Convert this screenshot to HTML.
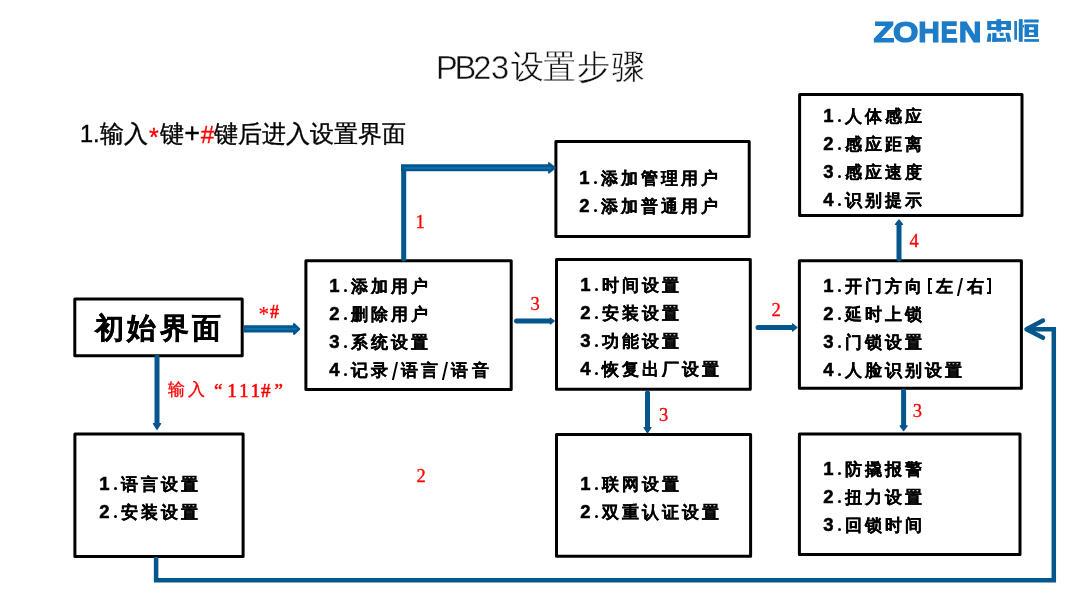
<!DOCTYPE html>
<html><head><meta charset="utf-8">
<style>
html,body{margin:0;padding:0;background:#fff;}
body{width:1080px;height:599px;position:relative;overflow:hidden;font-family:"Liberation Sans",sans-serif;color:#000;}
.a{position:absolute;white-space:nowrap;will-change:transform;}
.t{position:absolute;white-space:nowrap;will-change:transform;-webkit-text-stroke:0.2px #000;font-weight:700;font-size:17px;letter-spacing:3.1px;line-height:28px;}
.t div{height:28px;}
.t i{font-style:normal;display:inline-block;width:11px;text-align:center;letter-spacing:0;font-size:18.5px;-webkit-text-stroke:0.5px #000;}
.t i.s,.t i.lb,.t i.rb,.t i.dt{position:relative;vertical-align:top;height:28px;}
.t i.s{width:10px;}
.t i.dt:after{content:"";position:absolute;left:3.55px;top:16.5px;width:3.9px;height:3.9px;border-radius:50%;background:#000;}
.t i.s:after{content:"";position:absolute;left:2.6px;top:5.5px;width:2.4px;height:17.5px;background:#000;transform:skewX(-13deg);}
.t i.lb:after{content:"";position:absolute;left:2.8px;top:5.8px;width:2.2px;height:12.5px;border:2.5px solid #000;border-right:0;}
.t i.rb:after{content:"";position:absolute;left:0.6px;top:5.8px;width:2.2px;height:12.5px;border:2.5px solid #000;border-left:0;}
.hs{display:inline-block;position:relative;text-align:center;}
svg{position:absolute;left:0;top:0;will-change:transform;}
.rt{font-family:"Liberation Serif",serif;fill:#f00;font-size:18.5px;}
</style></head><body>

<svg width="1080" height="599" viewBox="0 0 1080 599">
  <!-- logo -->
  <g fill="#1c7cc7">
    <g font-family="Liberation Sans" font-weight="700" font-size="31.5" stroke="#1c7cc7" stroke-width="1.3">
    <text transform="translate(873.6,41.6) scale(1.08,0.95)">Z</text>
    <text transform="translate(893,41.6) scale(1.04,0.95)">O</text>
    <text transform="translate(918.3,41.6) scale(0.95,0.95)">H</text>
    <text transform="translate(940.8,41.6) scale(0.8,0.95)" stroke-width="1.6">E</text>
    <text transform="translate(958.8,41.6) scale(1,0.95)">N</text>
    </g>
  </g>
  <!-- boxes -->
  <g fill="none" stroke="#000" stroke-width="3" stroke-linejoin="round">
    <rect x="74.8" y="298.9" width="167.4" height="56.8"/>
    <rect x="305.9" y="260.8" width="205.3" height="128.8"/>
    <rect x="555.9" y="141.5" width="193.3" height="95"/>
    <rect x="556.5" y="259.5" width="193.8" height="129.8"/>
    <rect x="556.5" y="434.5" width="194.1" height="121.7"/>
    <rect x="799.6" y="94.5" width="222.4" height="121"/>
    <rect x="799.4" y="260.8" width="222" height="127.5"/>
    <rect x="799.4" y="434.1" width="220.6" height="120.5"/>
    <rect x="74.9" y="434" width="168.2" height="122.4"/>
  </g>
  <!-- thin blue connectors -->
  <g stroke="#05568c" stroke-width="5" fill="none" stroke-linecap="round">
    <line x1="403.7" y1="259" x2="403.7" y2="168"/>
    <line x1="157" y1="357" x2="157" y2="424"/>
    <line x1="516.5" y1="321.1" x2="550" y2="321.1"/>
    <line x1="758" y1="327.5" x2="793" y2="327.5"/>
    <line x1="899" y1="259" x2="899" y2="224"/>
    <line x1="647.5" y1="393" x2="647.5" y2="428"/>
    <line x1="903.6" y1="391" x2="903.6" y2="426"/>
  </g>
  <polyline points="156.1,557 156.1,580.3 1053.8,580.3 1053.8,329.3 1030,329.3" stroke="#05568c" stroke-width="4.5" fill="none" stroke-linejoin="miter"/>
  <polyline points="1043,320.5 1026.5,329.2 1043,337.8" stroke="#05568c" stroke-width="4.5" fill="none" stroke-linecap="round" stroke-linejoin="round"/>
  <!-- arrowheads -->
  <g fill="#05568c" stroke="#05568c" stroke-width="1.2" stroke-linejoin="round">
    <polygon points="550.3,318.2 554.3,321.1 550.3,324"/>
    <polygon points="792.5,323.9 797,327.5 792.5,331.1"/>
    <polygon points="895.4,224.3 899,219.9 902.6,224.3"/>
    <polygon points="644,427.5 647.5,432.8 651,427.5"/>
    <polygon points="900.1,425.8 903.6,430.6 907.1,425.8"/>
    <polygon points="153.4,423.6 157,429.5 160.6,423.6"/>
  </g>
  <!-- thick two-tone arrows -->
  <polyline points="401,167.8 550,167.8" stroke="#05568c" stroke-width="7" fill="none"/>
  <line x1="243.7" y1="328.85" x2="295" y2="328.85" stroke="#05568c" stroke-width="7.4"/>
  <g fill="#05568c" stroke="#05568c" stroke-width="1.4" stroke-linejoin="round">
    <polygon points="548.8,162.8 555.4,167.9 548.8,173"/>
    <polygon points="294,323.9 299.3,328.9 294,333.9" stroke-width="2"/>
  </g>
  <line x1="404" y1="167.9" x2="551" y2="167.9" stroke="#0a6fb0" stroke-width="2"/>
  <line x1="245" y1="328.9" x2="296.5" y2="328.9" stroke="#0a6fb0" stroke-width="2.2"/>
  <!-- red labels -->
  <g class="rt" stroke="#f00" stroke-width="0.3">
    <text x="415.5" y="228">1</text>
    <text x="530.5" y="310">3</text>
    <text x="771.5" y="316.2">2</text>
    <text x="909.5" y="247">4</text>
    <text x="659" y="420.5">3</text>
    <text x="912.8" y="417.2">3</text>
    <text x="416.5" y="482">2</text>
  </g>
  <g class="rt" stroke="#f00" stroke-width="0.3" font-weight="700">
    <text x="214" y="397" font-size="19" font-weight="400" stroke-width="0.5">“</text>
    <text x="227.5" y="396.8" font-size="18.5" letter-spacing="3.1" font-weight="400" stroke-width="0.6">111</text>
    <text x="261" y="396.8" font-size="19" font-weight="400" stroke-width="0.6">#</text>
    <text x="274.5" y="397" font-size="19" font-weight="400" stroke-width="0.5">”</text>
    <text x="258.5" y="321" font-size="21" font-weight="400" stroke-width="0.15">*</text>
    <text x="270" y="317.7" font-size="18" font-weight="400" stroke-width="0.6">#</text>
  </g>
  <!-- logo cjk -->
  <g fill="#1c7cc7" transform="translate(980,12)">
    <path fill-rule="evenodd" d="M7.2,9 H31 V18 H7.2 Z M11.4,12.3 V15 H16.2 V12.3 Z M21.4,12.3 V15 H26.2 V12.3 Z"/>
    <rect x="16.5" y="7.2" width="4.5" height="12.4"/>
    <polygon points="8.1,21.4 11.2,21.4 10.9,29.8 6.7,29.8"/>
    <rect x="12.3" y="20.8" width="4.2" height="9"/>
    <rect x="12.3" y="25.9" width="13.6" height="3.9"/>
    <polygon points="19.3,20.8 23.3,20.8 24,23.8 20.2,24"/>
    <polygon points="25.3,20.8 29.2,20.8 31.3,29.8 27.2,29.8"/>
    <rect x="34.3" y="9" width="2.7" height="18.7"/>
    <rect x="38.8" y="7.2" width="3.9" height="22.6"/>
    <rect x="42.7" y="13" width="1.3" height="2.5"/>
    <rect x="44.2" y="7.5" width="14.5" height="3"/>
    <path fill-rule="evenodd" d="M44.5,12.3 H58.1 V25 H44.5 Z M49,15.3 V17.8 H53.9 V15.3 Z M49,20.5 V22.9 H53.9 V20.5 Z"/>
    <rect x="44.2" y="27.1" width="14.8" height="2.7"/>
  </g>
</svg>

<!-- title -->
<svg width="1080" height="100" viewBox="0 0 1080 100" style="height:100px">
  <g font-family="Liberation Sans" fill="#111" stroke="#fff" stroke-width="0.4">
    <text x="436.1 454.5 473.3 491" y="78.5" font-size="32.6">PB23</text>
    <text x="511.3 542.5 576.5 611.5" y="77.8" font-size="32.5">设置步骤</text>
  </g>
</svg>

<!-- header -->
<div class="a" style="left:80px;top:117px;font-size:23.6px;line-height:32px;-webkit-text-stroke-width:0.35px;">1.输入<span class="hs" style="color:#f00;width:12.2px;font-size:25px;top:4px;">*</span>键<span class="hs" style="width:16.4px;font-size:27px;top:-0.5px;">+</span><span class="hs" style="color:#f00;width:14px;font-style:italic;font-size:24px;top:0.5px;">#</span>键后进入设置界面</div>

<!-- red text under box1 -->
<div class="a" style="left:167.5px;top:378px;font-family:'Liberation Sans',sans-serif;color:#f00;font-size:17px;line-height:24px;letter-spacing:3px;-webkit-text-stroke-width:0.3px;">输入</div>

<!-- box texts -->
<div class="a" style="left:95.3px;top:306.3px;font-size:29px;font-weight:700;letter-spacing:3.4px;line-height:44px;-webkit-text-stroke:0.35px #000;">初始界面</div>
<div class="t" style="left:329px;top:272px;"><div><i>1</i><i class="dt"></i>添加用户</div><div><i>2</i><i class="dt"></i>删除用户</div><div><i>3</i><i class="dt"></i>系统设置</div><div><i>4</i><i class="dt"></i>记录<i class="s"></i>语言<i class="s"></i>语音</div></div>
<div class="t" style="left:579px;top:164px;"><div><i>1</i><i class="dt"></i>添加管理用户</div><div><i>2</i><i class="dt"></i>添加普通用户</div></div>
<div class="t" style="left:580px;top:271px;"><div><i>1</i><i class="dt"></i>时间设置</div><div><i>2</i><i class="dt"></i>安装设置</div><div><i>3</i><i class="dt"></i>功能设置</div><div><i>4</i><i class="dt"></i>恢复出厂设置</div></div>
<div class="t" style="left:580px;top:470px;"><div><i>1</i><i class="dt"></i>联网设置</div><div><i>2</i><i class="dt"></i>双重认证设置</div></div>
<div class="t" style="left:823px;top:102px;"><div><i>1</i><i class="dt"></i>人体感应</div><div><i>2</i><i class="dt"></i>感应距离</div><div><i>3</i><i class="dt"></i>感应速度</div><div><i>4</i><i class="dt"></i>识别提示</div></div>
<div class="t" style="left:823px;top:272px;"><div><i>1</i><i class="dt"></i>开门方向<i class="lb"></i>左<i class="s"></i>右<i class="rb"></i></div><div><i>2</i><i class="dt"></i>延时上锁</div><div><i>3</i><i class="dt"></i>门锁设置</div><div><i>4</i><i class="dt"></i>人脸识别设置</div></div>
<div class="t" style="left:823px;top:455px;"><div><i>1</i><i class="dt"></i>防撬报警</div><div><i>2</i><i class="dt"></i>扭力设置</div><div><i>3</i><i class="dt"></i>回锁时间</div></div>
<div class="t" style="left:99px;top:470px;"><div><i>1</i><i class="dt"></i>语言设置</div><div><i>2</i><i class="dt"></i>安装设置</div></div>

</body></html>
